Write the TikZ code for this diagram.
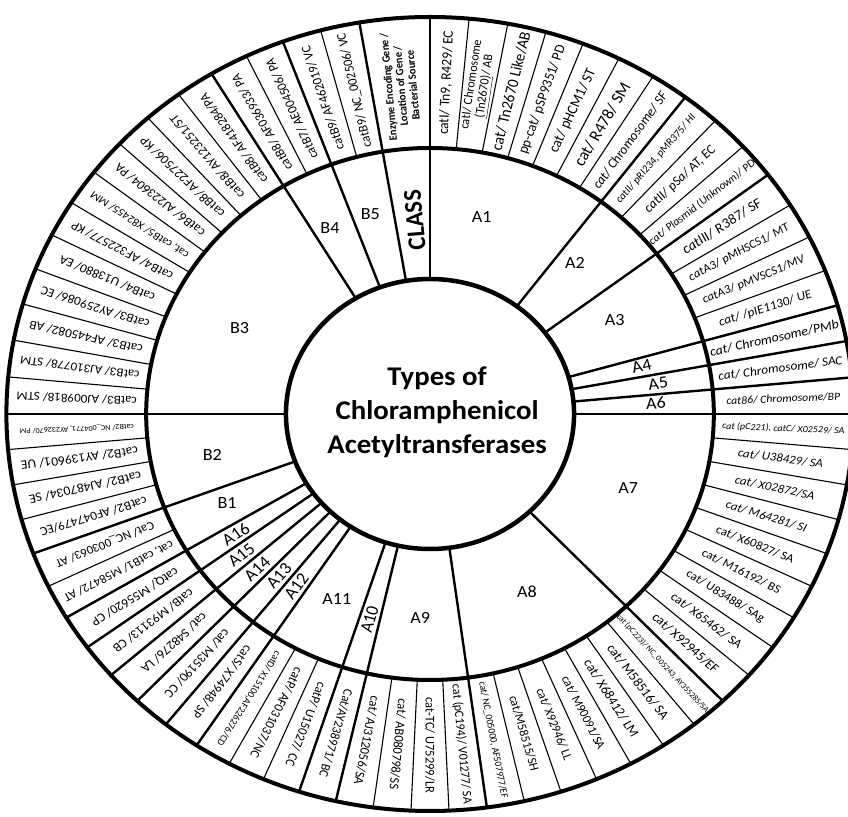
\documentclass[tikz,border=0pt]{standalone}
\usepackage{fontspec}
\setmainfont{Carlito}
% one labelled cell of the outer ring: [style]{mid angle}{name}{text}
\newcommand\ringentry[4][]{\node[lbl,#1,rotate=#2] (#3) at (#2:331.5) {#4};}
\begin{document}
\begin{tikzpicture}[x=1pt,y=1pt,
  ring/.style={line width=4pt},
  classline/.style={line width=2.4pt},
  entryline/.style={line width=1.1pt},
  lbl/.style={inner sep=0pt, align=center, font=\fontsize{12.5}{13}\selectfont},
  sz/.style={font=\fontsize{#1}{#1}\selectfont},
  isz/.style={font=\fontsize{#1}{#1}\selectfont\itshape},
  cls/.style={inner sep=0pt, font=\fontsize{17}{20}\selectfont},
  titletext/.style={inner sep=0pt, align=center, font=\fontsize{27}{34}\selectfont\bfseries},
]
\path[use as bounding box] (0,0) rectangle (848,816);
\clip (0,0) rectangle (848,816);
\fill[white] (0,0) rectangle (848,816);
\begin{scope}[shift={(430,402)}, xscale=1.067, transform shape]
  % separators between the cells of the outer ring
  \foreach \k in {1,...,16} \draw[entryline] ({90-\k*5.29412}:266) -- ({90-\k*5.29412}:397);
  \foreach \k in {1,...,34} \draw[entryline] ({-\k*5.142857}:266) -- ({-\k*5.142857}:397);
  \foreach \k in {1,...,14} \draw[entryline] ({99.6+\k*5.36}:266) -- ({99.6+\k*5.36}:397);
  % class boundaries, through both rings
  \foreach \a in {90,99.6,110.32,121.04,180,52.941,37.059,15.882,10.588,5.294,0,
                  -46.286,-82.286,-102.857,-108,-123.429,-128.571,-133.714,
                  -138.857,-144,-149.143,-159.429}
    \draw[classline] (\a:135) -- (\a:397);
  % rings
  \draw[ring] (0,0) circle (397);
  \draw[ring] (0,0) circle (266);
  \draw[line width=4.5pt] (0,0) circle (135);

  % centre title
  \node[titletext] (title) at (6.6,2) {Types of\\Chloramphenicol\\Acetyltransferases};

  % class ring
  \node[inner sep=0pt, font=\fontsize{24}{24}\selectfont\bfseries, rotate=94.8] (class) at (94.2:194.5) {CLASS};
  \node[cls] (A1) at (76.2:203) {A1};
  \node[cls] (A2) at (47.95:203) {A2};
  \node[cls] (A3) at (28.5:197) {A3};
  \node[cls, rotate=13.2] (A4) at (13.5:204) {A4};
  \node[cls, rotate=7.9] (A5) at (8.1:216) {A5};
  \node[cls, rotate=2.6] (A6) at (2.9:212) {A6};
  \node[cls] (A7) at (-21.8:200) {A7};
  \node[cls] (A8) at (-63:200) {A8};
  \node[cls] (A9) at (-92.6:204) {A9};
  \node[cls, rotate=74.57] (A10) at (-105.43:213) {A10};
  \node[cls] (A11) at (-115.2:205) {A11};
  \node[cls, rotate=54] (A12) at (-126:213) {A12};
  \node[cls, rotate=48.86] (A13) at (-131.14:215) {A13};
  \node[cls, rotate=43.71] (A14) at (-136.29:224) {A14};
  \node[cls, rotate=38.57] (A15) at (-141.43:226) {A15};
  \node[cls, rotate=33.43] (A16) at (-146.57:218) {A16};
  \node[cls] (B1) at (-154.9:210) {B1};
  \node[cls] (B2) at (-168.7:208) {B2};
  \node[cls] (B3) at (154.3:198) {B3};
  \node[cls] (B4) at (116.8:208) {B4};
  \node[cls] (B5) at (105.6:208) {B5};

  % outer ring: heading cell
  \node[inner sep=0pt, align=center, font=\fontsize{10.5}{11.5}\selectfont\bfseries, rotate=94.8] (head) at (94.8:329)
    {Enzyme Encoding Gene /\\Location of Gene /\\Bacterial Source};

  % outer ring, top right
  \ringentry[sz=13.5]{87.353}{e1}{catI/ Tn9, R429/ EC}
  \ringentry[font=\fontsize{12}{12.5}\selectfont]{82.059}{e2}{catI/ Chromosome\\\underline{(Tn2670)}/ AB}
  \ringentry[sz=15]{76.765}{e3}{cat/ Tn2670 Like/AB}
  \ringentry[sz=13.5]{71.471}{e4}{pp-cat/ pSP9351/ PD}
  \ringentry[sz=14]{66.176}{e5}{cat/ pHCM1/ ST}
  \ringentry[sz=16]{60.882}{e6}{cat/ R478/ SM}
  \ringentry[isz=13]{55.588}{e7}{cat/ Chromosome/ SF}
  \ringentry[isz=10.5]{50.294}{e8}{catII/ pRI234, pMR375/ HI}
  \ringentry[isz=13]{45.000}{e9}{catII/ pSa/ AT, EC}
  \ringentry[isz=11]{39.706}{e10}{cat/ Plasmid (Unknown)/ PD}
  \ringentry[isz=14]{34.412}{e11}{catIII/ R387/ SF}
  \ringentry[isz=12]{29.118}{e12}{catA3/ pMHSCS1/ MT}
  \ringentry[isz=12]{23.824}{e13}{catA3/ pMVSCS1/MV}
  \ringentry[isz=12.5]{18.529}{e14}{cat/ /pIE1130/ UE}
  \ringentry[isz=13]{13.235}{e15}{cat/ Chromosome/PMb}
  \ringentry[isz=12.5]{7.941}{e16}{cat/ Chromosome/ SAC}
  \ringentry[isz=11]{2.647}{e17}{cat86/ Chromosome/BP}

  % outer ring, lower half
  \ringentry[isz=9.4]{-2.571}{f1}{cat (pC221), catC/ X02529/ SA}
  \ringentry[isz=12]{-7.714}{f2}{cat/ U38429/ SA}
  \ringentry[isz=12]{-12.857}{f3}{cat/ X02872/SA}
  \ringentry[isz=12]{-18.000}{f4}{cat/ M64281/ SI}
  \ringentry[sz=12]{-23.143}{f5}{cat/ X60827/ SA}
  \ringentry[sz=12]{-28.286}{f6}{cat/ M16192/ BS}
  \ringentry[sz=12]{-33.429}{f7}{cat/ U83488/ SAg}
  \ringentry[sz=12.5]{-38.571}{f8}{cat/ X65462/ SA}
  \ringentry[sz=13]{-43.714}{f9}{cat/ X92945/EF}
  \ringentry[sz=8]{-48.857}{f10}{cat (pC223)/ NC\_005243, AY355285/SA}
  \ringentry[sz=13]{-54.000}{f11}{cat/ M58516/ SA}
  \ringentry[sz=13]{-59.143}{f12}{cat/ X68412/ LM}
  \ringentry[sz=12]{-64.286}{f13}{cat/ M90091/SA}
  \ringentry[sz=12]{-69.429}{f14}{cat/ X92946/ LL}
  \ringentry[sz=12]{-74.571}{f15}{cat/M58515/SH}
  \ringentry[sz=9.5]{-79.714}{f16}{cat/ NC\_005000, AF507977/EF}
  \ringentry[sz=12]{-84.857}{f17}{cat (pC194)/ V01277/ SA}
  \ringentry[sz=12.5]{-90.000}{f18}{cat-TC/ U75299/LR}
  \ringentry[sz=12.5]{-95.143}{f19}{cat/ AB080798/SS}
  \ringentry[sz=12.5]{-100.286}{f20}{cat/ AJ312056/SA}
  \ringentry[sz=12.2]{-105.429}{f21}{Cat/AY238971/ BC}
  \ringentry[sz=12.4]{-110.571}{f22}{catP/ U15027/ CC}
  \ringentry[sz=12.4]{-115.714}{f23}{catP/ AF031037/NC}
  \ringentry[sz=9.5]{-120.857}{f24}{catD/ X15100,AF226276/CD}
  \ringentry[sz=12.5]{-126.000}{f25}{catS/ X74948/ SP}
  \ringentry[sz=12.5]{-131.143}{f26}{cat/ M35190/ CC}
  \ringentry[sz=12.5]{-136.286}{f27}{cat/ S48276/ LA}
  \ringentry[sz=12.5]{-141.429}{f28}{catB/ M93113/ CB}
  \ringentry[sz=12.5]{-146.571}{f29}{catQ/ M55620/ CP}
  \ringentry[sz=12]{-151.714}{f30}{cat, catB1/ M58472/ AT}
  \ringentry[sz=12]{-156.857}{f31}{Cat/ NC\_003063/ AT}
  \ringentry[sz=12.5]{-162.000}{f32}{catB2/ AF047479/EC}
  \ringentry[sz=12.8]{-167.143}{f33}{catB2/ AJ487034/ SE}
  \ringentry[sz=12.8]{-172.286}{f34}{catB2/ AY139601/ UE}
  \ringentry[sz=7.6]{-177.429}{f35}{catB2/ NC\_004771, AY232670/ PM}

  % outer ring, top left
  \ringentry[sz=12.5]{102.28}{g1}{catB9/ NC\_002506/ VC}
  \ringentry[sz=12.5]{107.64}{g2}{catB9/ AF462019/ VC}
  \ringentry[sz=12.5]{113.00}{g3}{catB7/ AE004506/ PA}
  \ringentry[sz=12.5]{118.36}{g4}{catB8/ AF036933/ PA}
  \ringentry[sz=12.5]{123.72}{g5}{catB8/ AF418284/PA}
  \ringentry[sz=12.5]{129.08}{g6}{catB8/ AY123251/ST}
  \ringentry[sz=12.5]{134.44}{g7}{catB8/ AF227506/ KP}
  \ringentry[sz=12.5]{139.80}{g8}{catB6/ AJ223604/ PA}
  \ringentry[sz=11]{145.16}{g9}{cat, catB5/ X82455/ MM}
  \ringentry[sz=12.5]{150.52}{g10}{catB4/ AF322577/ KP}
  \ringentry[sz=12.5]{155.88}{g11}{catB4/ U13880/ EA}
  \ringentry[sz=12.5]{161.24}{g12}{catB3/ AY259086/ EC}
  \ringentry[sz=12.5]{166.60}{g13}{catB3/ AF445082/ AB}
  \ringentry[sz=12.2]{171.96}{g14}{catB3/ AJ310778/ STM}
  \ringentry[sz=12.2]{177.32}{g15}{catB3/ AJ009818/ STM}
\end{scope}
\end{tikzpicture}
\end{document}
